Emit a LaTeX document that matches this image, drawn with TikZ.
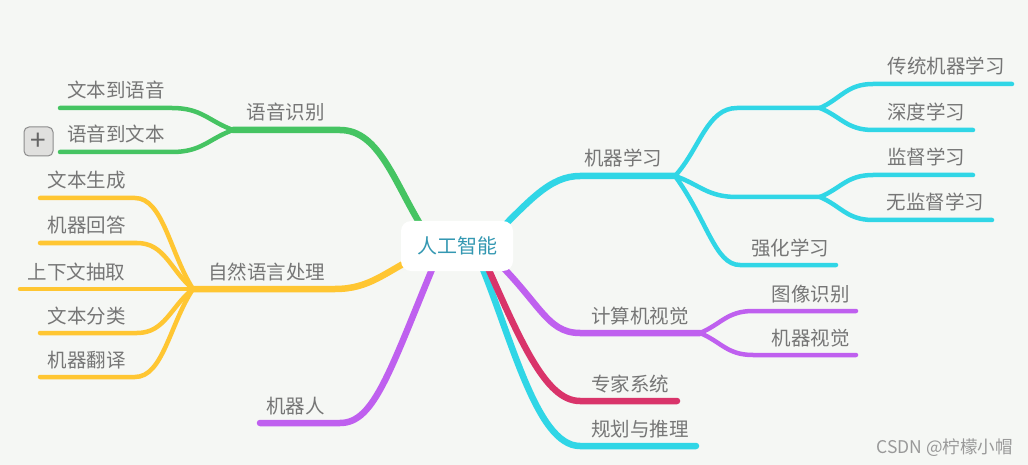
\documentclass[tikz,border=0pt]{standalone}
\usepackage{fontspec}
\setmainfont{Noto Sans CJK SC}
\usetikzlibrary{calc}

\definecolor{paper}{RGB}{245,247,244}
\definecolor{leafgreen}{RGB}{69,196,98}
\definecolor{sunyellow}{RGB}{255,198,50}
\definecolor{skycyan}{RGB}{48,214,230}
\definecolor{mmviolet}{RGB}{191,96,239}
\definecolor{crimson}{RGB}{217,52,106}
\definecolor{labelgrey}{RGB}{118,118,118}
\definecolor{roottext}{RGB}{52,152,178}
\definecolor{btnfill}{RGB}{224,224,222}

\begin{document}
\begin{tikzpicture}[x=1pt,y=-1pt,
    branch/.style={line width=6.5pt,line cap=round},
    twig/.style={line width=4.5pt,line cap=round},
    topic/.style={anchor=base,inner sep=0pt,text=labelgrey,font=\fontsize{19.5}{22}\selectfont},
    rootbox/.style={fill=white,rounded corners=10pt,minimum width=112pt,minimum height=50pt,
        text=roottext,font=\fontsize{20}{22}\selectfont},
    plusbtn/.style={draw=black!45,fill=btnfill,rounded corners=5pt,minimum size=29pt,inner sep=0pt,
        line width=1pt,text=black!60,font=\fontsize{28}{28}\selectfont},
]
    \useasboundingbox[fill=paper] (0,0) rectangle (1028,465);%page size in px

    \coordinate (ai) at (457,246);%root node comes last, over the branches

    % 语音识别
    \coordinate (asr-j) at (233,130);
    \draw[branch,leafgreen] ($(ai)+(-32,-14)$) .. controls (395,185) and (380,130) .. (340,130) -- (asr-j);
    \node[topic] (asr) at (285.5,120) {语音识别};
    \foreach \i/\y/\t in {1/108/文本到语音,2/152/语音到文本}{
        \coordinate (asr-s\i) at (172,\y);
        \coordinate (asr-e\i) at (60,\y);
        \draw[twig,leafgreen] (asr-j) .. controls ($(asr-j)!0.4!(asr-s\i)$) and +(30,0) .. (asr-s\i) -- (asr-e\i);
        \node[topic] (asr-\i) at (116,\y-10) {\t};
    }
    \node[plusbtn] (asr-fold) at (38.5,141.5) {+};

    % 自然语言处理
    \coordinate (nlp-j) at (193,289);
    \draw[branch,sunyellow] ($(ai)+(-37,9)$) .. controls (385,272) and (370,289) .. (335,289) -- (nlp-j);
    \node[topic] (nlp) at (266.5,279) {自然语言处理};
    \foreach \i/\y/\s/\e/\cx/\t in {1/198/135/40/86.5/文本生成,2/243/137/40/86.5/机器回答,
            3/289/192/20/76.5/上下文抽取,4/333/137/40/86.5/文本分类,5/377/135/40/86.5/机器翻译}{
        \coordinate (nlp-s\i) at (\s,\y);
        \coordinate (nlp-e\i) at (\e,\y);
        \draw[twig,sunyellow] (nlp-j) .. controls ($(nlp-j)!0.4!(nlp-s\i)$) and +(28,0) .. (nlp-s\i) -- (nlp-e\i);
        \node[topic] (nlp-\i) at (\cx,\y-10) {\t};
    }

    % 机器人
    \coordinate (bot-e) at (260,423);
    \draw[branch,mmviolet] ($(ai)+(-17,4)$) .. controls (390,370) and (375,423) .. (340,423) -- (bot-e);
    \node[topic] (bot) at (295.5,413) {机器人};

    % 机器学习
    \coordinate (ml-j) at (675,176);
    \draw[branch,skycyan] ($(ai)+(33,-6)$) .. controls (530,200) and (550,176) .. (580,176) -- (ml-j);
    \node[topic] (ml) at (623,166) {机器学习};
    \foreach \g/\y in {a/108,b/197}{%two groups without text
        \coordinate (ml-\g s) at (737,\y);
        \coordinate (ml-\g) at (820,\y);
        \draw[twig,skycyan] (ml-j) .. controls ($(ml-j)!0.4!(ml-\g s)$) and +(-30,0) .. (ml-\g s) -- (ml-\g);
    }
    \foreach \g/\y/\e/\cx/\t in {a/84/1012/946/传统机器学习,a/130/973/926/深度学习,
            b/175/973/926/监督学习,b/220/992/935.5/无监督学习}{
        \coordinate (ml-s\y) at (873,\y);
        \coordinate (ml-e\y) at (\e,\y);
        \draw[twig,skycyan] (ml-\g) .. controls ($(ml-\g)!0.4!(ml-s\y)$) and +(-26,0) .. (ml-s\y) -- (ml-e\y);
        \node[topic] (ml-\y) at (\cx,\y-10) {\t};
    }
    \coordinate (rl-s) at (740,265);
    \coordinate (rl-e) at (836,265);
    \draw[twig,skycyan] (ml-j) .. controls ($(ml-j)!0.5!(rl-s)$) and +(-25,0) .. (rl-s) -- (rl-e);
    \node[topic] (rl) at (790,255) {强化学习};

    % 计算机视觉
    \coordinate (cv-j) at (700,333);
    \draw[branch,mmviolet] ($(ai)+(28,4)$) .. controls (540,300) and (545,333) .. (580,333) -- (cv-j);
    \node[topic] (cv) at (640,323) {计算机视觉};
    \foreach \i/\y/\t in {1/311/图像识别,2/355/机器视觉}{
        \coordinate (cv-s\i) at (753,\y);
        \coordinate (cv-e\i) at (856,\y);
        \draw[twig,mmviolet] (cv-j) .. controls ($(cv-j)!0.4!(cv-s\i)$) and +(-26,0) .. (cv-s\i) -- (cv-e\i);
        \node[topic] (cv-\i) at (810.5,\y-10) {\t};
    }

    % 规划与推理, 专家系统
    \coordinate (pr-e) at (696,446);
    \draw[branch,skycyan] ($(ai)+(18,4)$) .. controls (510,330) and (535,446) .. (580,446) -- (pr-e);
    \node[topic] (pr) at (640,436) {规划与推理};
    \coordinate (es-e) at (677,401);
    \draw[branch,crimson] ($(ai)+(23,4)$) .. controls (520,340) and (545,401) .. (580,401) -- (es-e);
    \node[topic] (es) at (630,391) {专家系统};

    \node[rootbox] (root) at (ai) {人工智能};

    \node[anchor=base east,inner sep=0pt,text=black!40,font=\fontsize{17.5}{20}\selectfont] (mark) at (1013,453) {CSDN @柠檬小帽};
\end{tikzpicture}
\end{document}
